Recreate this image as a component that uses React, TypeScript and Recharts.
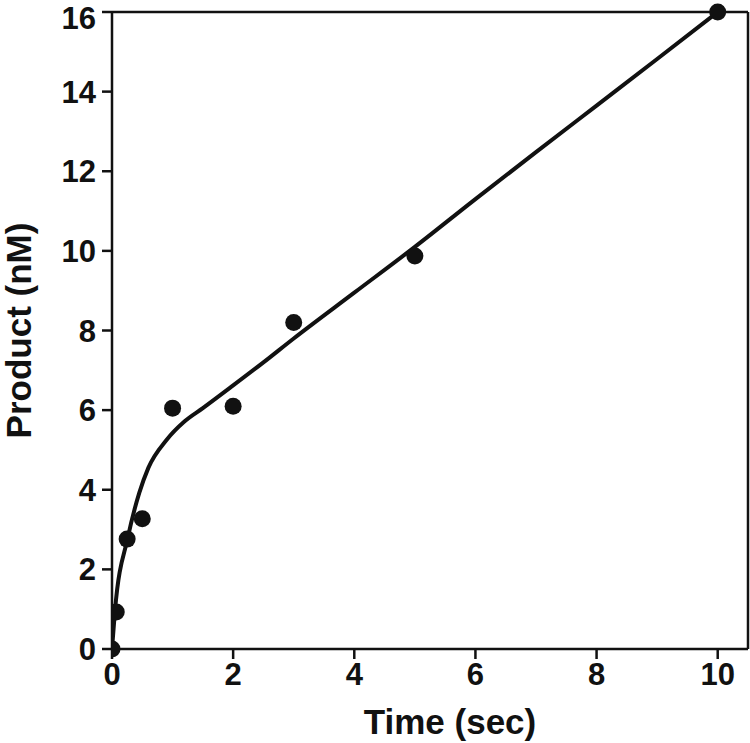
import React from "react";
import {
  ComposedChart,
  Line,
  Scatter,
  XAxis,
  YAxis,
  ReferenceLine,
  Label,
} from "recharts";

// measured points (time in sec, product in nM)
const pointTimes = [0, 0.07, 0.25, 0.5, 1, 2, 3, 5, 10];
const pointValues = [0, 0.93, 2.76, 3.27, 6.05, 6.1, 8.2, 9.87, 16];

// fitted curve
const fitTimes = [0, 0.05, 0.26, 0.45, 0.6, 0.9, 1.2, 1.5, 2, 2.5, 3, 4, 5, 6, 7, 8, 9, 10];
const fitValues = [0, 0.98, 2.79, 3.92, 4.55, 5.25, 5.72, 6.05, 6.62, 7.2, 7.8, 8.95, 10.1, 11.3, 12.48, 13.65, 14.82, 16];

const xTicks = [0, 2, 4, 6, 8, 10];
const yTicks = [0, 2, 4, 6, 8, 10, 12, 14, 16];

const points = pointTimes.map((t, i) => ({ t, product: pointValues[i] }));
const fit = fitTimes.map((t, i) => ({ t, fit: fitValues[i] }));

const font = "'Liberation Sans', Arial, sans-serif";
const tickStyle = { fill: "#111", fontSize: 31, fontWeight: 700, fontFamily: font };
const labelStyle = { fill: "#111", fontSize: 35, fontWeight: 700, fontFamily: font };

const Dot = (props: any) => <circle cx={props.cx} cy={props.cy} r={8.5} fill="#111" />;

export default function App() {
  return (
    <div style={{ position: "absolute", left: 0, top: 0, background: "#fff" }}>
      <ComposedChart width={750} height={743} margin={{ top: 12, right: 2, bottom: 0, left: 0 }}>
        <XAxis
          type="number"
          dataKey="t"
          domain={[0, 10.5]}
          ticks={xTicks}
          allowDataOverflow
          height={94}
          tickSize={10}
          tickMargin={4}
          stroke="#111"
          strokeWidth={2.5}
          tick={tickStyle}
        >
          <Label value="Time (sec)" position="insideBottom" offset={9} dx={20} style={labelStyle} />
        </XAxis>
        <YAxis
          type="number"
          domain={[0, 16]}
          ticks={yTicks}
          width={112}
          tickSize={10}
          tickMargin={6}
          stroke="#111"
          strokeWidth={2.5}
          tick={tickStyle}
        >
          <Label
            value="Product (nM)"
            angle={-90}
            position="insideLeft"
            offset={19}
            style={{ ...labelStyle, textAnchor: "middle" }}
          />
        </YAxis>
        <ReferenceLine y={16} stroke="#111" strokeWidth={2.5} />
        <ReferenceLine x={10.5} stroke="#111" strokeWidth={2.5} />
        <Line
          data={fit}
          dataKey="fit"
          type="monotone"
          stroke="#111"
          strokeWidth={4}
          dot={false}
          isAnimationActive={false}
        />
        <Scatter data={points} dataKey="product" shape={Dot} isAnimationActive={false} />
      </ComposedChart>
    </div>
  );
}
